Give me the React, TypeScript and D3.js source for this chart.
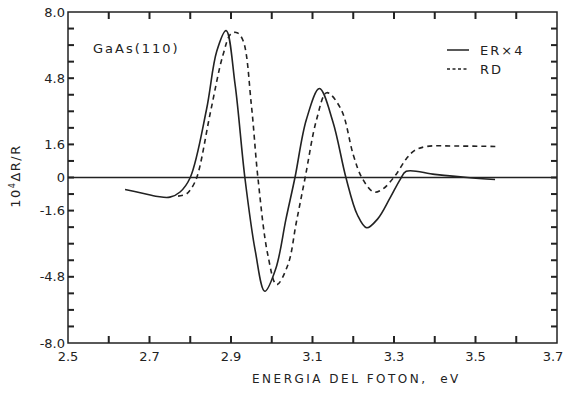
import React from 'react';
import * as d3 from 'd3';

// photon energy (eV) and signal values
const erEnergy = [2.64, 2.68, 2.72, 2.75, 2.775, 2.80, 2.84, 2.865, 2.888, 2.91, 2.934, 2.96, 2.983, 3.01, 3.035, 3.057, 3.085, 3.117, 3.15, 3.182, 3.21, 3.233, 3.26, 3.29, 3.315, 3.33, 3.40, 3.48, 3.548];
const erValue = [-0.58, -0.75, -0.92, -0.95, -0.7, 0, 3.3, 6.1, 7.1, 4.5, 0, -3.6, -5.5, -4.4, -2.0, 0, 2.8, 4.3, 2.7, 0, -1.8, -2.43, -2.0, -1.0, -0.1, 0.3, 0.15, 0.0, -0.1];

const rdEnergy = [2.77, 2.79, 2.80, 2.816, 2.85, 2.88, 2.90, 2.915, 2.93, 2.95, 2.966, 2.99, 3.012, 3.04, 3.06, 3.082, 3.11, 3.135, 3.17, 3.20, 3.221, 3.25, 3.273, 3.305, 3.33, 3.35, 3.38, 3.45, 3.552];
const rdValue = [-0.9, -0.8, -0.6, 0, 3.2, 5.9, 6.95, 7.0, 6.6, 3.5, 0, -3.7, -5.18, -4.2, -2.2, 0, 2.8, 4.1, 3.3, 1.1, 0, -0.7, -0.55, 0.15, 0.9, 1.3, 1.5, 1.52, 1.5];

const xTicks = [2.6, 2.7, 2.8, 2.9, 3.0, 3.1, 3.2, 3.3, 3.4, 3.5, 3.6];
const xLabels = ['2.5', '2.7', '2.9', '3.1', '3.3', '3.5', '3.7'];
const yTicks = [-7.2, -6.4, -5.6, -4.8, -4.0, -3.2, -2.4, -1.6, -0.8, 0, 0.8, 1.6, 2.4, 3.2, 4.0, 4.8, 5.6, 6.4, 7.2];
const yLabels = ['8.0', '4.8', '1.6', '0', '-1.6', '-4.8', '-8.0'];

const ink = '#222';
const font = '"DejaVu Sans", sans-serif';

const App = () => {
  const width = 563;
  const height = 395;
  const margin = { top: 12, right: 6, bottom: 52, left: 68 };
  const w = width - margin.left - margin.right;
  const h = height - margin.top - margin.bottom;

  const x = d3.scaleLinear().domain([2.5, 3.7]).range([0, w]);
  const y = d3.scaleLinear().domain([-8, 8]).range([h, 0]);
  const tk = 7;

  const line = d3.line<number[]>()
    .x((d) => x(d[0]))
    .y((d) => y(d[1]))
    .curve(d3.curveCatmullRom.alpha(0.5));

  const erPath = line(d3.zip(erEnergy, erValue)) || '';
  const rdPath = line(d3.zip(rdEnergy, rdValue)) || '';

  const txt = { fontFamily: font, fill: ink };

  return (
    <svg width={width} height={height} style={{ position: 'absolute', left: 0, top: 0, background: '#fff' }}>
      <g transform={`translate(${margin.left}, ${margin.top})`}>
        <rect width={w} height={h} fill="none" stroke={ink} strokeWidth={1.5} />
        {xTicks.map((d) => (
          <g key={'x' + d}>
            <rect x={x(d) - 1} y={h - tk} width={2} height={tk} fill={ink} />
            <rect x={x(d) - 1} y={0} width={2} height={tk} fill={ink} />
          </g>
        ))}
        {yTicks.map((d) => (
          <g key={'y' + d}>
            <rect x={0} y={y(d) - 1} width={tk - 1} height={2} fill={ink} />
            <rect x={w - tk + 1} y={y(d) - 1} width={tk - 1} height={2} fill={ink} />
          </g>
        ))}
        {xLabels.map((d, i) => (
          <text key={'xl' + d} x={x(+d) - (i === xLabels.length - 1 ? 4 : 0)} y={h + 18}
            textAnchor="middle" fontSize={13} style={txt}>{d}</text>
        ))}
        {yLabels.map((d) => (
          <text key={'yl' + d} x={-3} y={y(+d)} dy="0.35em"
            textAnchor="end" fontSize={13} style={txt}>{d}</text>
        ))}
        <line x1={0} x2={w} y1={y(0)} y2={y(0)} stroke={ink} strokeWidth={1.3} />
        <path d={erPath} fill="none" stroke={ink} strokeWidth={1.6} />
        <path d={rdPath} fill="none" stroke={ink} strokeWidth={1.6} strokeDasharray="5,4" />
      </g>

      {/* legend */}
      <line x1={447} x2={469} y1={50} y2={50} stroke={ink} strokeWidth={1.5} />
      <line x1={447} x2={469} y1={69} y2={69} stroke={ink} strokeWidth={1.5} strokeDasharray="3,2.5" />
      <text x={480} y={55} fontSize={13} letterSpacing={2} style={txt}>ER×4</text>
      <text x={480} y={74} fontSize={13} letterSpacing={2} style={txt}>RD</text>

      <text x={93} y={53} fontSize={13} letterSpacing={2} style={txt}>GaAs(110)</text>

      <text x={252} y={383} fontSize={12} letterSpacing={2.5} style={{ ...txt, whiteSpace: 'pre' }}>
        {'ENERGIA DEL FOTON,  eV'}
      </text>

      <text transform="translate(20, 176) rotate(-90)" textAnchor="middle" fontSize={13} letterSpacing={1.5} style={txt}>
        <tspan>10</tspan>
        <tspan dy={-5} fontSize={8}>4</tspan>
        <tspan dy={5}>ΔR/R</tspan>
      </text>
    </svg>
  );
};

export default App;
